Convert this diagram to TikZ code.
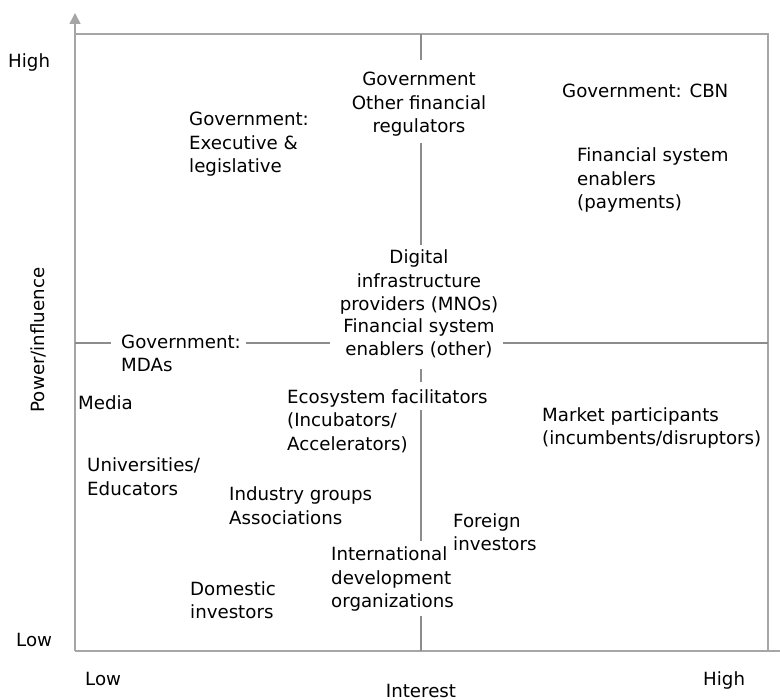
\documentclass[tikz,border=0pt]{standalone}
\usepackage{fontspec}
\setmainfont{DejaVu Sans}
\usetikzlibrary{arrows.meta}
\tikzset{
	frameline/.style={line width=1.6pt, color=black!35},
	midline/.style={line width=1.5pt, color=black!45},
	lbl/.style={inner sep=0pt, align=left, text=black, font=\fontsize{18.2}{23.5}\selectfont},
	lblc/.style={lbl, align=center}
}

\begin{document}
\begin{tikzpicture}[x=1pt, y=-1pt]
			%%%%% START %%%%%
			\useasboundingbox (0, 0) rectangle (780, 700);
			
			% axes and frame
			\draw[frameline, -{Triangle[width=11pt, length=11pt]}] (75, 651) -- (75, 13);
			\draw[frameline] (75, 34) -- (768, 34) -- (768, 651);
			\draw[frameline] (75, 651) -- (781, 651);
			
			% quadrant lines
			\draw[midline] (421, 34) -- (421, 60);
			\draw[midline] (421, 143) -- (421, 245);
			\draw[midline] (421, 369) -- (421, 382);
			\draw[midline] (421, 410) -- (421, 541);
			\draw[midline] (421, 616) -- (421, 651);
			\draw[midline] (75, 343) -- (111, 343);
			\draw[midline] (246, 343) -- (330, 343);
			\draw[midline] (503, 343) -- (768, 343);
			
			% axis labels
			\node[lbl, anchor=base west] (yhigh) at (8, 68) {High};
			\node[lbl, anchor=base west] (ylow) at (16, 646) {Low};
			\node[lbl, anchor=base west] (xlow) at (85, 685) {Low};
			\node[lbl, anchor=base west] (xhigh) at (703, 685) {High};
			\node[lbl, anchor=base] (interest) at (421, 697) {Interest};
			\node[lbl, anchor=base, rotate=90] (power) at (45, 340) {Power/influence};
			
			% stakeholders (base = last line)
			\node[lbl, anchor=base west] (govexec) at (189, 173) {Government:\\Executive \&\\legislative};
			\node[lblc, anchor=base] (govreg) at (419, 133) {Government\\Other financial\\regulators};
			\node[lbl, anchor=base west] (cbn) at (562, 98) {Government: CBN};
			\node[lbl, anchor=base west] (fsepay) at (577, 209) {Financial system\\enablers\\(payments)};
			\node[lblc, anchor=base] (digital) at (419, 311) {Digital\\infrastructure\\providers (MNOs)};
			\node[lblc, anchor=base] (fseother) at (419, 356) {Financial system\\enablers (other)};
			\node[lbl, anchor=base west] (mdas) at (121, 372) {Government:\\MDAs};
			\node[lbl, anchor=base west] (media) at (78, 410) {Media};
			\node[lbl, anchor=base west] (ecofac) at (287, 450.5) {Ecosystem facilitators\\(Incubators/\\Accelerators)};
			\node[lbl, anchor=base west] (market) at (542, 445) {Market participants\\(incumbents/disruptors)};
			\node[lbl, anchor=base west] (univ) at (87, 495.5) {Universities/\\Educators};
			\node[lbl, anchor=base west] (industry) at (229, 524.5) {Industry groups\\Associations};
			\node[lbl, anchor=base west] (foreign) at (453, 551) {Foreign\\investors};
			\node[lbl, anchor=base west] (intdev) at (331, 608) {International\\development\\organizations};
			\node[lbl, anchor=base west] (domestic) at (190, 619) {Domestic\\investors};
			
			%%%%% END %%%%%
		\end{tikzpicture}
\end{document}
